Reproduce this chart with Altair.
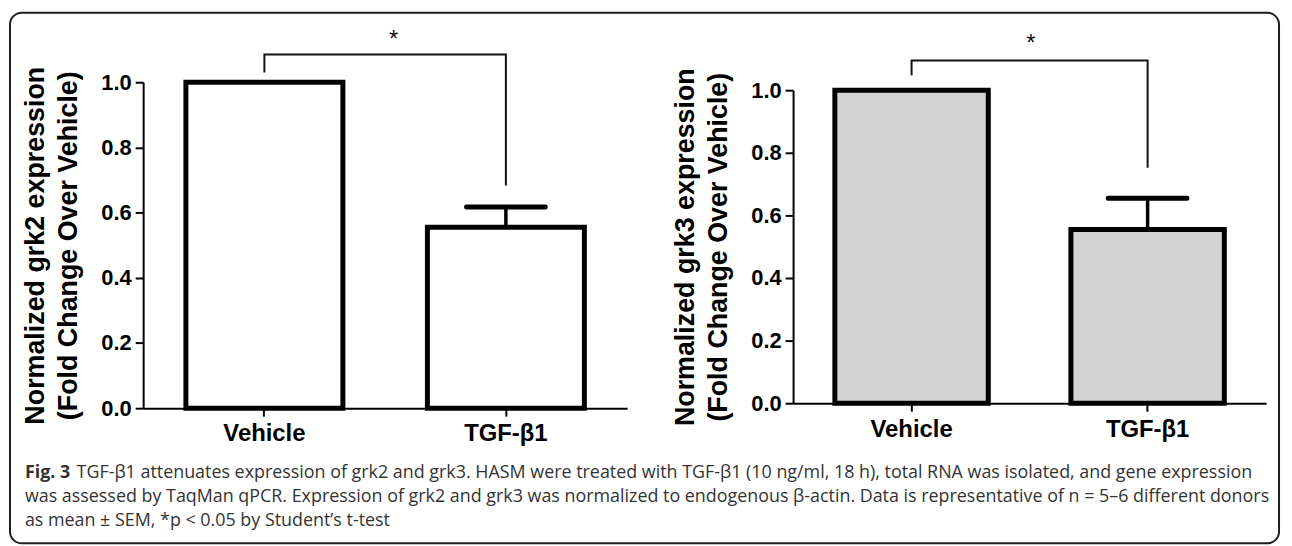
import altair as alt
import pandas as pd

# ---------------- data ----------------
categories = ["Vehicle", "TGF-β1"]
grk2_mean = [1.0, 0.555]
grk2_sem = [0.0, 0.062]
grk3_mean = [1.0, 0.555]
grk3_sem = [0.0, 0.100]

y_ticks = [0.0, 0.2, 0.4, 0.6, 0.8, 1.0]

# significance bracket (category, height), drawn in order
bracket_cats = ["Vehicle", "Vehicle", "TGF-β1", "TGF-β1"]
grk2_bracket_y = [1.030, 1.085, 1.085, 0.683]
grk3_bracket_y = [1.048, 1.095, 1.095, 0.752]
grk2_star_y = 1.108
grk3_star_y = 1.125
star_text = "*"

grk2_title = ["Normalized grk2 expression", "(Fold Change Over Vehicle)"]
grk3_title = ["Normalized grk3 expression", "(Fold Change Over Vehicle)"]

caption_lead = "Fig. 3"
caption_line1 = ("TGF-β1 attenuates expression of grk2 and grk3. HASM were treated with TGF-β1 "
                 "(10 ng/ml, 18 h), total RNA was isolated, and gene expression")
caption_rest = [
    "was assessed by TaqMan qPCR. Expression of grk2 and grk3 was normalized to endogenous "
    "β-actin. Data is representative of n = 5–6 different donors",
    "as mean ± SEM, *p < 0.05 by Student’s t-test",
]

FONT = "Liberation Sans"
CAP_FONT = "Open Sans"
CAP_COLOR = "#333333"
CAP_SIZE = 18


def panel(mean, sem, bracket_y, star_y, title, fill, width, height, yrange, star_dx, extra=None):
    df = pd.DataFrame({"cat": categories, "mean": mean,
                       "upper": [m + s for m, s in zip(mean, sem)], "sem": sem})
    err = df[df["sem"] > 0]
    xs = alt.Scale(domain=categories, paddingInner=0.35, paddingOuter=0.177)
    if yrange is not None:
        ys = alt.Scale(domain=[0, 1], nice=False, range=yrange)
    else:
        ys = alt.Scale(domain=[0, 1], nice=False)

    xaxis = alt.Axis(title=None, labelAngle=0, domainColor="black", domainWidth=2,
                     tickColor="black", tickWidth=2, tickSize=8, labelFont=FONT,
                     labelFontSize=24, labelFontWeight="bold", labelColor="black",
                     labelPadding=6)
    yaxis = alt.Axis(title=title, values=y_ticks, format=".1f", grid=False,
                     domainColor="black", domainWidth=2, tickColor="black", tickWidth=2,
                     tickSize=8, labelFont=FONT, labelFontSize=22, labelFontWeight="bold",
                     labelColor="black", labelPadding=4, titleFont=FONT, titleFontSize=27,
                     titleFontWeight="bold", titleColor="black", titleLineHeight=34,
                     titlePadding=18)

    X = alt.X("cat:N", scale=xs, sort=categories, axis=xaxis)

    bars = alt.Chart(df).mark_bar(fill=fill, stroke="black", strokeWidth=5,
                                  strokeJoin="miter").encode(
        x=X,
        y=alt.Y("mean:Q", scale=ys, axis=yaxis),
    )
    stem = alt.Chart(err).mark_rule(color="black", strokeWidth=3.5, opacity=1).encode(
        x=X,
        y=alt.Y("mean:Q", scale=ys, axis=yaxis),
        y2="upper:Q",
    )
    cap = alt.Chart(err).mark_tick(color="black", thickness=5, size=84, opacity=1,
                                   orient="horizontal", cornerRadius=2).encode(
        x=X,
        y=alt.Y("upper:Q", scale=ys, axis=yaxis),
    )
    bdf = pd.DataFrame({"cat": bracket_cats, "y": bracket_y, "step": [0, 1, 2, 3]})
    bracket = alt.Chart(bdf).mark_line(color="#111111", strokeWidth=2, opacity=1,
                                       strokeJoin="miter").encode(
        x=X,
        y=alt.Y("y:Q", scale=ys, axis=yaxis),
        order="step:Q",
    )
    sdf = pd.DataFrame({"cat": [categories[0]], "y": [star_y], "t": [star_text]})
    star = alt.Chart(sdf).mark_text(dx=star_dx, fontSize=24, font=FONT, color="#111111",
                                    baseline="alphabetic", align="center").encode(
        x=X,
        y=alt.Y("y:Q", scale=ys, axis=yaxis),
        text="t:N",
    )
    layers = [bars, stem, cap, bracket, star]
    if extra:
        layers += extra
    return alt.layer(*layers).properties(width=width, height=height)


# frame and caption (positioned relative to the left panel)
one = pd.DataFrame({"k": [0]})
border = alt.Chart(one).mark_rect(fillOpacity=0, stroke="#1e1e1e", strokeWidth=2,
                                  cornerRadius=12).encode(
    x=alt.value(-134), x2=alt.value(1143), y=alt.value(-70), y2=alt.value(464))
cap_lead = alt.Chart(pd.DataFrame({"t": [caption_lead]})).mark_text(
    align="left", baseline="alphabetic", font=CAP_FONT, fontSize=CAP_SIZE, fontWeight="bold",
    color=CAP_COLOR).encode(x=alt.value(-119), y=alt.value(398), text="t:N")
cap_l1 = alt.Chart(pd.DataFrame({"t": [caption_line1]})).mark_text(
    align="left", baseline="alphabetic", font=CAP_FONT, fontSize=CAP_SIZE,
    color=CAP_COLOR).encode(x=alt.value(-67), y=alt.value(398), text="t:N")
cap_rest = alt.Chart(pd.DataFrame({"t": ["\n".join(caption_rest)]})).mark_text(
    align="left", baseline="alphabetic", font=CAP_FONT, fontSize=CAP_SIZE, lineBreak="\n",
    lineHeight=24.5, color=CAP_COLOR).encode(x=alt.value(-119), y=alt.value(422), text="t:N")

left = panel(grk2_mean, grk2_sem, grk2_bracket_y, grk2_star_y, grk2_title, "white",
             487, 328, None, 130, extra=[border, cap_lead, cap_l1, cap_rest])
right = panel(grk3_mean, grk3_sem, grk3_bracket_y, grk3_star_y, grk3_title, "#d3d3d3",
              476, 323, [323, 8], 120)

chart = alt.hconcat(left, right, spacing=167, bounds="flush").properties(
    padding={"left": 1, "top": 2, "right": 4, "bottom": 4}
).configure(background="white", view=alt.ViewConfig(stroke="transparent", strokeWidth=0))

chart.save("out.html", embed_options={"renderer": "svg", "actions": False})
